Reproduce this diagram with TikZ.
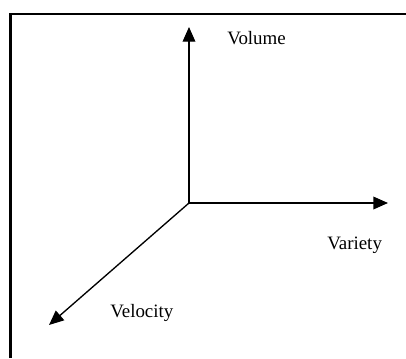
\documentclass[tikz,border=0pt]{standalone}
\usepackage{fontspec}
\setmainfont{Liberation Serif}
\usetikzlibrary{arrows.meta}
\begin{document}
\begin{tikzpicture}[x=0.75pt,y=-0.75pt,
  axis/.style={line width=1pt,-{Triangle[length=11pt,width=9.5pt]}},
  lbl/.style={font=\fontsize{14.2}{16}\selectfont,inner sep=0pt,anchor=west}]
\useasboundingbox (0,0) rectangle (406,358);
\draw[line width=1.6pt] (10.5,358) -- (10.5,14) -- (406,14);
\coordinate (o) at (189,203);
\coordinate (up) at (189,27);
\coordinate (right) at (388,203);
\coordinate (dl) at (49,325);
\draw[axis] (o) -- (up);
\draw[axis] (o) -- (right);
\draw[axis] (o) -- (dl);
\node[lbl] (vol) at (227,38) {Volume};
\node[lbl] (var) at (327,245) {Variety};
\node[lbl] (vel) at (110,313) {Velocity};
\end{tikzpicture}
\end{document}
